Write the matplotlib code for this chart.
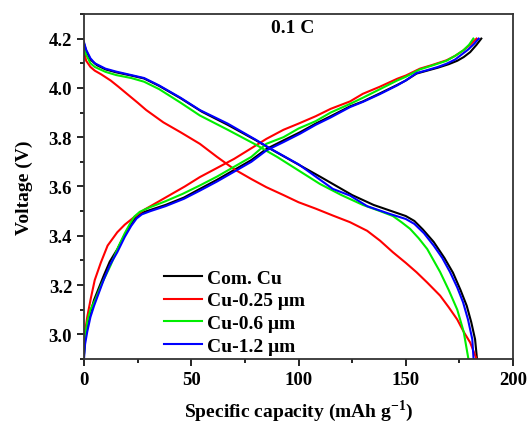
import matplotlib
matplotlib.use('Agg')
import matplotlib.pyplot as plt
from matplotlib.ticker import MultipleLocator

plt.rcParams['font.family'] = ['Liberation Serif', 'DejaVu Serif']
plt.rcParams['font.weight'] = 'bold'
plt.rcParams['mathtext.fontset'] = 'custom'
plt.rcParams['mathtext.rm'] = 'Liberation Serif:bold'

labels = ['Com. Cu', 'Cu-0.25 \u03bcm', 'Cu-0.6 \u03bcm', 'Cu-1.2 \u03bcm']
colors = ['black', '#ff0000', '#00ee00', '#0000ff']

# discharge branches (capacity, voltage)
dis_cap_com = [0, 1, 3, 6, 10, 15, 22, 28, 35, 45, 55, 67, 80, 87, 95, 110, 125, 135, 145, 150, 154,
               158, 163, 168, 172, 175.5, 178.4, 180.5, 182.3, 183.2]
dis_v_com = [4.18, 4.15, 4.115, 4.092, 4.075, 4.063, 4.05, 4.038, 4.008, 3.958, 3.903, 3.85, 3.788,
             3.752, 3.713, 3.64, 3.565, 3.525, 3.495, 3.48, 3.46, 3.425, 3.375, 3.31, 3.25, 3.18,
             3.116, 3.05, 2.98, 2.90]
dis_cap_025 = [0, 1, 3, 5, 8, 12.4, 16, 20, 25, 29, 37, 45, 54, 62, 70, 78, 85, 93, 100, 108, 116,
               124, 132, 138, 144, 150, 155, 160, 166, 170, 174, 177, 180, 183]
dis_v_025 = [4.15, 4.11, 4.085, 4.07, 4.055, 4.03, 4.005, 3.976, 3.94, 3.91, 3.86, 3.82, 3.773,
             3.72, 3.67, 3.63, 3.597, 3.565, 3.536, 3.51, 3.482, 3.455, 3.42, 3.38, 3.333, 3.29,
             3.252, 3.21, 3.157, 3.11, 3.06, 3.01, 2.967, 2.90]
dis_cap_06 = [0, 1, 3, 5, 10, 15, 22, 28, 35, 45, 54, 67, 80, 90, 100, 110, 120, 130, 138, 144, 148,
              152, 156, 160, 166, 170, 174, 177, 179.2]
dis_v_06 = [4.165, 4.135, 4.10, 4.085, 4.065, 4.052, 4.04, 4.025, 3.995, 3.94, 3.888, 3.83, 3.77,
            3.72, 3.665, 3.61, 3.565, 3.525, 3.50, 3.48, 3.455, 3.428, 3.39, 3.346, 3.253, 3.18,
            3.10, 3.01, 2.90]
dis_cap_12 = [0, 1, 3, 5, 10, 15, 22, 28, 35, 45, 54, 67, 80, 87, 100, 116, 124, 132, 142, 150, 154,
              158.5, 163, 167, 170.6, 174, 176.7, 179, 181, 181.6]
dis_v_12 = [4.185, 4.155, 4.12, 4.10, 4.078, 4.066, 4.052, 4.04, 4.01, 3.96, 3.91, 3.855, 3.79,
            3.753, 3.69, 3.59, 3.563, 3.52, 3.49, 3.468, 3.448, 3.41, 3.36, 3.31, 3.253, 3.19,
            3.13, 3.06, 2.98, 2.90]

# charge branches
ch_cap_com = [0, 0.5, 1.5, 3, 4.7, 7, 9.3, 12, 15.5, 19, 22, 24.5, 27, 31, 38, 46.6, 54, 62, 70, 78,
              85, 93, 100.7, 108, 115, 124, 130, 138, 146, 150, 155, 160, 165, 170, 174, 177, 180,
              183, 185.2]
ch_v_com = [2.92, 2.98, 3.04, 3.09, 3.14, 3.19, 3.24, 3.295, 3.345, 3.405, 3.45, 3.478, 3.493, 3.505,
            3.525, 3.555, 3.59, 3.627, 3.667, 3.707, 3.752, 3.787, 3.82, 3.855, 3.885, 3.925, 3.945,
            3.978, 4.012, 4.03, 4.058, 4.07, 4.082, 4.096, 4.11, 4.125, 4.145, 4.175, 4.20]
ch_cap_025 = [0, 0.5, 1.5, 3.1, 5, 7.8, 11, 15.5, 19, 23.3, 28, 33, 40, 47, 54, 62, 70, 78, 85, 93,
              100, 108, 115, 124, 130, 138, 146, 150, 156.6, 162, 169, 173, 176.8, 180, 183]
ch_v_025 = [2.95, 3.01, 3.07, 3.143, 3.22, 3.29, 3.36, 3.414, 3.445, 3.475, 3.505, 3.53, 3.565,
            3.60, 3.638, 3.675, 3.712, 3.755, 3.793, 3.83, 3.855, 3.885, 3.915, 3.945, 3.976,
            4.005, 4.037, 4.05, 4.078, 4.092, 4.112, 4.13, 4.152, 4.175, 4.20]
ch_cap_06 = [0, 0.5, 1.5, 3, 5.4, 8, 12.4, 16, 19, 21.5, 23.5, 26, 30, 38, 46, 54, 62, 70, 78, 85,
             93, 100, 108, 115, 124, 130, 138, 146, 150, 156.6, 162, 169, 173, 176.8, 179.5, 181.5]
ch_v_06 = [2.92, 2.99, 3.05, 3.10, 3.143, 3.20, 3.28, 3.355, 3.41, 3.45, 3.478, 3.497, 3.513, 3.54,
           3.57, 3.604, 3.64, 3.68, 3.72, 3.773, 3.80, 3.835, 3.865, 3.90, 3.935, 3.96, 3.995,
           4.03, 4.045, 4.075, 4.09, 4.11, 4.13, 4.152, 4.175, 4.20]
ch_cap_12 = [0, 0.5, 1.5, 3, 4.7, 7, 9.3, 12, 15.5, 19, 22, 24.5, 27, 31, 38, 46.6, 54, 62, 70, 78,
             85, 93, 100.7, 108, 115, 124, 130, 138, 146, 150, 155, 160, 165, 169, 173, 176, 179,
             182, 184]
ch_v_12 = [2.90, 2.96, 3.01, 3.07, 3.116, 3.17, 3.224, 3.28, 3.333, 3.395, 3.44, 3.47, 3.487, 3.50,
           3.52, 3.55, 3.583, 3.62, 3.66, 3.70, 3.746, 3.78, 3.814, 3.85, 3.88, 3.922, 3.943,
           3.975, 4.01, 4.03, 4.06, 4.072, 4.085, 4.098, 4.115, 4.135, 4.155, 4.18, 4.20]

dis = [(dis_cap_com, dis_v_com), (dis_cap_025, dis_v_025), (dis_cap_06, dis_v_06), (dis_cap_12, dis_v_12)]
ch = [(ch_cap_com, ch_v_com), (ch_cap_025, ch_v_025), (ch_cap_06, ch_v_06), (ch_cap_12, ch_v_12)]

fig = plt.figure(figsize=(5.3, 4.27), dpi=100)
ax = fig.add_axes([0.1585, 0.157, 0.8095, 0.808])

for (dc, dv), (cc, cv), c, lab in zip(dis, ch, colors, labels):
    ax.plot(dc, dv, color=c, lw=1.5, label=lab)
    ax.plot(cc, cv, color=c, lw=1.5)

ax.set_xlim(0, 200)
ax.set_ylim(2.9, 4.3)
ax.xaxis.set_major_locator(MultipleLocator(50))
ax.xaxis.set_minor_locator(MultipleLocator(25))
ax.yaxis.set_major_locator(MultipleLocator(0.2))
ax.yaxis.set_minor_locator(MultipleLocator(0.1))
ax.tick_params(which='both', direction='out', top=False, right=False, labelsize=13.5, width=1.2)
ax.tick_params(which='major', length=5)
ax.tick_params(which='minor', length=3)
for s in ax.spines.values():
    s.set_linewidth(1.3)
    s.set_color('#333333')
ax.xaxis.set_major_formatter(plt.FuncFormatter(lambda v, p: '%d' % v))
ax.yaxis.set_major_formatter(plt.FuncFormatter(lambda v, p: '%.1f' % v))
for t in ax.get_xticklabels() + ax.get_yticklabels():
    t.set_fontweight('bold')

ax.set_xlabel('Specific capacity (mAh g$^{-1}$)', fontsize=14, fontweight='bold', labelpad=7)
ax.set_ylabel('Voltage (V)', fontsize=14, fontweight='bold', labelpad=11)
ax.text(0.487, 0.962, '0.1 C', transform=ax.transAxes, ha='center', va='center', fontsize=14, fontweight='bold')

leg = ax.legend(loc='lower left', bbox_to_anchor=(0.186, 0.012), frameon=False, fontsize=14,
                handlelength=1.95, handletextpad=0.25, labelspacing=0.26, borderaxespad=0,
                borderpad=0)
for t in leg.get_texts():
    t.set_fontweight('bold')

fig.savefig('out.png', dpi=100)
